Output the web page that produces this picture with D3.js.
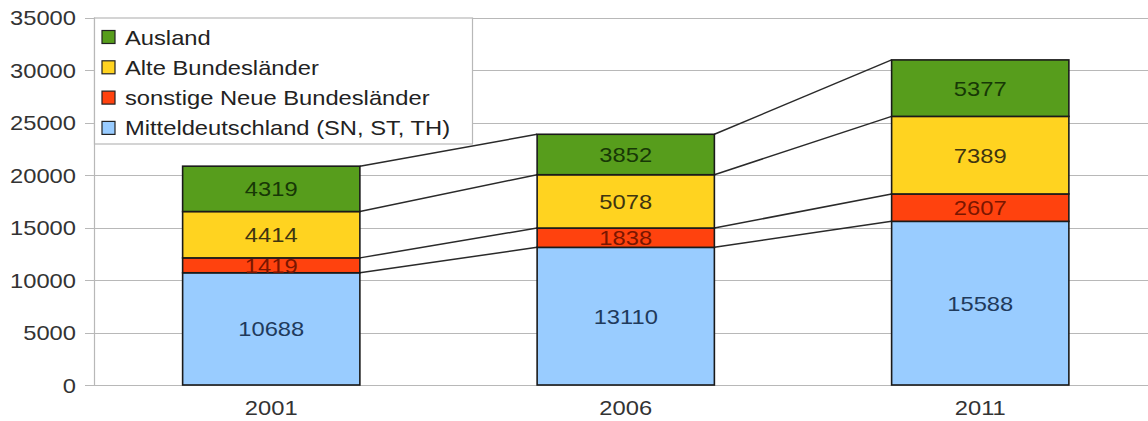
<!DOCTYPE html>
<html>
<head>
<meta charset="utf-8">
<script src="https://cdn.jsdelivr.net/npm/d3@7"></script>
<style>
    body { margin: 0; background: #fff; }
    text { font-family: "Liberation Sans", Arial, sans-serif; }
</style>
</head>
<body>
<svg id="chart" width="1148" height="421"></svg>
<script>
// Data
var years = ["2001", "2006", "2011"];
var mitteldeutschland = [10688, 13110, 15588];
var sonstigeNeue = [1419, 1838, 2607];
var alteLaender = [4414, 5078, 7389];
var ausland = [4319, 3852, 5377];
var seriesNames = ["Mitteldeutschland (SN, ST, TH)", "sonstige Neue Bundesländer", "Alte Bundesländer", "Ausland"];
var seriesColors = ["#99ccff", "#ff420e", "#ffd320", "#579d1c"];
var labelColors = ["#1f3a5c", "#7a1600", "#3f3510", "#173806"];
var yTicks = [0, 5000, 10000, 15000, 20000, 25000, 30000, 35000];

// Layout
var fontSize = 21;
var stretch = 1.13;   // source glyphs are a bit wider than tall
var plotLeft = 94, plotTop = 17.5, plotBottom = 385;
var step = 354.5;

var svg = d3.select("#chart"),
    width = +svg.attr("width"),
    height = +svg.attr("height");

var table = years.map(function (yr, i) {
    return {
        year: yr,
        s0: mitteldeutschland[i],
        s1: sonstigeNeue[i],
        s2: alteLaender[i],
        s3: ausland[i]
    };
});
var keys = ["s0", "s1", "s2", "s3"];
var stacked = d3.stack().keys(keys)(table);

var x = d3.scaleBand()
    .domain(years)
    .range([plotLeft, plotLeft + step * years.length])
    .paddingInner(0.5)
    .paddingOuter(0.25);

var y = d3.scaleLinear()
    .domain([0, 35000])
    .range([plotBottom, plotTop]);

function stretchedText(sel, tx, ty) {
    return sel.attr("transform", "translate(" + tx + "," + ty + ") scale(" + stretch + ",1)");
}

// Gridlines + y ticks
var grid = svg.append("g");
grid.selectAll("line")
    .data(yTicks)
    .enter()
    .append("line")
    .attr("x1", plotLeft - 9)
    .attr("x2", width)
    .attr("y1", function (d) { return Math.round(y(d)) + 0.5; })
    .attr("y2", function (d) { return Math.round(y(d)) + 0.5; })
    .attr("stroke", "#b8b8b8")
    .attr("stroke-width", 1.2);

grid.selectAll("text")
    .data(yTicks)
    .enter()
    .append("text")
    .each(function (d) { stretchedText(d3.select(this), 76, y(d)); })
    .attr("text-anchor", "end")
    .attr("dy", "0.36em")
    .attr("font-size", fontSize)
    .attr("fill", "#333")
    .text(function (d) { return d; });

// y axis line
svg.append("line")
    .attr("x1", plotLeft + 0.5).attr("x2", plotLeft + 0.5)
    .attr("y1", y(35000)).attr("y2", y(0))
    .attr("stroke", "#b8b8b8")
    .attr("stroke-width", 1.2);

// connector lines between stacked segment tops
var connectors = svg.append("g");
stacked.forEach(function (layer) {
    for (var i = 0; i < years.length - 1; i++) {
        connectors.append("line")
            .attr("x1", x(years[i]) + x.bandwidth())
            .attr("y1", y(layer[i][1]))
            .attr("x2", x(years[i + 1]))
            .attr("y2", y(layer[i + 1][1]))
            .attr("stroke", "#2a2a2a")
            .attr("stroke-width", 1.5);
    }
});

// bars
var layers = svg.selectAll(".layer")
    .data(stacked)
    .enter()
    .append("g")
    .attr("class", "layer")
    .attr("fill", function (d, i) { return seriesColors[i]; });

layers.selectAll("rect")
    .data(function (d) { return d; })
    .enter()
    .append("rect")
    .attr("x", function (d) { return x(d.data.year); })
    .attr("y", function (d) { return y(d[1]); })
    .attr("width", x.bandwidth())
    .attr("height", function (d) { return y(d[0]) - y(d[1]); })
    .attr("stroke", "#1a1a1a")
    .attr("stroke-width", 1.6);

// value labels
layers.each(function (layer, li) {
    d3.select(this).selectAll("text")
        .data(layer)
        .enter()
        .append("text")
        .each(function (d) {
            stretchedText(d3.select(this), x(d.data.year) + x.bandwidth() / 2, (y(d[0]) + y(d[1])) / 2);
        })
        .attr("text-anchor", "middle")
        .attr("dy", "0.36em")
        .attr("font-size", fontSize)
        .attr("fill", labelColors[li])
        .text(function (d) { return d[1] - d[0]; });
});

// x labels
svg.append("g").selectAll("text")
    .data(years)
    .enter()
    .append("text")
    .each(function (d) { stretchedText(d3.select(this), x(d) + x.bandwidth() / 2, 415); })
    .attr("text-anchor", "middle")
    .attr("font-size", fontSize)
    .attr("fill", "#333")
    .text(function (d) { return d; });

// legend (reverse order, top series first)
var legend = svg.append("g");
legend.append("rect")
    .attr("x", plotLeft + 0.5)
    .attr("y", 18)
    .attr("width", 378)
    .attr("height", 126)
    .attr("fill", "#fff")
    .attr("stroke", "#b8b8b8")
    .attr("stroke-width", 1.2);

var legendItems = [3, 2, 1, 0];
var item = legend.selectAll(".item")
    .data(legendItems)
    .enter()
    .append("g")
    .attr("class", "item")
    .attr("transform", function (d, i) { return "translate(0," + (37 + i * 30.3) + ")"; });

item.append("rect")
    .attr("x", 102)
    .attr("y", -6.5)
    .attr("width", 13)
    .attr("height", 13)
    .attr("fill", function (d) { return seriesColors[d]; })
    .attr("stroke", "#222")
    .attr("stroke-width", 1.2);

item.append("text")
    .attr("transform", "translate(125,0) scale(" + stretch + ",1)")
    .attr("dy", "0.36em")
    .attr("font-size", fontSize)
    .attr("fill", "#222")
    .text(function (d) { return seriesNames[d]; });
</script>
</body>
</html>
